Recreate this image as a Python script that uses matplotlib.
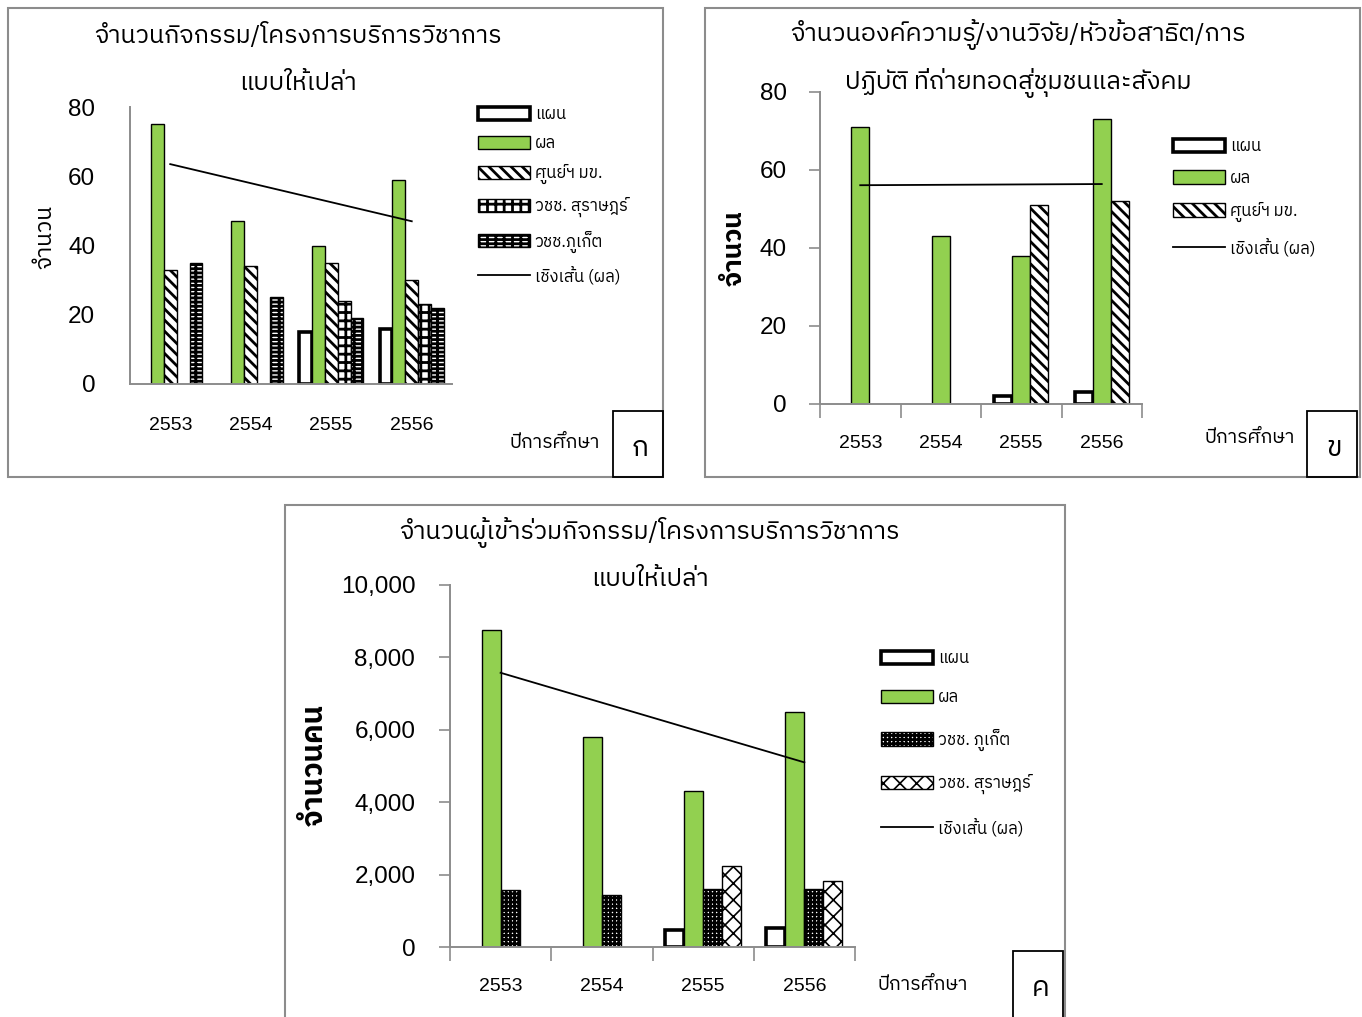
import numpy as np
import matplotlib
matplotlib.use("Agg")
import matplotlib.pyplot as plt
from matplotlib import font_manager
from matplotlib.ft2font import FT2Font
from matplotlib.patches import Rectangle
from matplotlib.lines import Line2D
from matplotlib.ticker import FuncFormatter

# ข้อมูล ปีการศึกษา 2553-2556
years = ["2553", "2554", "2555", "2556"]

# (ก) จำนวนกิจกรรม/โครงการบริการวิชาการแบบให้เปล่า
a_plan = [np.nan, np.nan, 15, 16]
a_result = [75, 47, 40, 59]
a_kku = [33, 34, 35, 30]
a_surat = [np.nan, np.nan, 24, 23]
a_phuket = [35, 25, 19, 22]

# (ข) จำนวนองค์ความรู้ที่ถ่ายทอดสู่ชุมชนและสังคม
b_plan = [np.nan, np.nan, 2, 3]
b_result = [71, 43, 38, 73]
b_kku = [np.nan, np.nan, 51, 52]

# (ค) จำนวนผู้เข้าร่วมกิจกรรม
c_plan = [np.nan, np.nan, 480, 520]
c_result = [8750, 5800, 4300, 6500]
c_phuket = [1580, 1450, 1600, 1600]
c_surat = [np.nan, np.nan, 2230, 1820]

W, H = 1362, 1017
GREEN = "#92D050"
GRAY = "#8C8C8C"
ZIGZAG = "xx"


# หาฟอนต์ที่มีอักษรไทย
def find_thai_font():
    names = []
    for f in font_manager.fontManager.ttflist:
        try:
            cmap = FT2Font(f.fname).get_charmap()
        except Exception:
            continue
        if 0x0E01 in cmap and 0x0E33 in cmap:
            names.append(f.name)
    if not names:
        return "DejaVu Sans"
    names = sorted(set(names), key=lambda n: (("Sans" not in n), ("Looped" in n), n))
    return names[0]


installed = {f.name for f in font_manager.fontManager.ttflist}
THAI = find_thai_font()
NUM = "Liberation Sans Narrow" if "Liberation Sans Narrow" in installed else "Liberation Sans"
plt.rcParams["font.family"] = [THAI, "DejaVu Sans"]
plt.rcParams["hatch.linewidth"] = 2.0
NUM_FONT = [NUM, "DejaVu Sans"]


def rect(l, t, r, b):
    return [l / W, 1 - b / H, (r - l) / W, (b - t) / H]


def fx(x):
    return x / W


def fy(y):
    return 1 - y / H


def trend(values):
    xs = np.arange(len(values))
    k, c = np.polyfit(xs, values, 1)
    return xs, k * xs + c


def thin_hatch(p):
    # ลายซิกแซกให้เส้นบางกว่าลายอื่น
    if p.get_hatch() == ZIGZAG and hasattr(p, "set_hatch_linewidth"):
        p.set_hatch_linewidth(1.2)


def frame(l, t, r, b, color=GRAY, lw=1.5):
    fig.add_artist(Rectangle((fx(l), fy(b)), (r - l) / W, (b - t) / H,
                             transform=fig.transFigure, fill=False,
                             edgecolor=color, linewidth=lw))


def base_axes(box, ymax, yticks, tick_marks, ypad, xpad, fmt=None):
    ax = fig.add_axes(rect(*box))
    ax.set_xlim(-0.5, 3.5)
    ax.set_ylim(0, ymax)
    for s in ["top", "right"]:
        ax.spines[s].set_visible(False)
    for s in ["left", "bottom"]:
        ax.spines[s].set_color(GRAY)
        ax.spines[s].set_linewidth(1.4)
    ax.set_yticks(yticks)
    if fmt is not None:
        ax.yaxis.set_major_formatter(FuncFormatter(fmt))
    x = np.arange(len(years))
    if tick_marks:
        ax.set_xticks(np.arange(-0.5, 4.0), labels=[])
        ax.set_xticks(x, labels=years, minor=True)
        ax.tick_params(axis="x", which="major", length=10, color=GRAY, width=1.2)
        ax.tick_params(axis="x", which="minor", length=0, pad=xpad)
        ax.tick_params(axis="y", length=8, color=GRAY, width=1.2, pad=ypad)
    else:
        ax.set_xticks(x, labels=years)
        ax.tick_params(axis="x", length=0, pad=xpad)
        ax.tick_params(axis="y", length=0, pad=ypad)
    for lab in ax.get_xticklabels(minor=tick_marks):
        lab.set_fontfamily(NUM_FONT)
        lab.set_fontsize(14)
    for lab in ax.get_yticklabels():
        lab.set_fontfamily(NUM_FONT)
        lab.set_fontsize(17.5)
    return ax


def draw_bars(ax, series, width):
    x = np.arange(len(years))
    n = len(series)
    handles = []
    for i, (vals, style) in enumerate(series):
        pos = x + (i - (n - 1) / 2) * width
        if style == "plan":
            h = ax.bar(pos, vals, width, facecolor="white", edgecolor="black", linewidth=2.6)
        elif style == "result":
            h = ax.bar(pos, vals, width, facecolor=GREEN, edgecolor="black", linewidth=1)
        else:
            h = ax.bar(pos, vals, width, facecolor="white", edgecolor="black",
                       linewidth=1, hatch=style)
            for p in h.patches:
                thin_hatch(p)
        handles.append(h)
    return handles


def add_legend(ax, handles, labels, x, y, spacing):
    leg = ax.legend(handles, labels, loc="upper left", bbox_to_anchor=(fx(x), fy(y)),
                    bbox_transform=fig.transFigure, frameon=False, fontsize=12,
                    handlelength=3.1, handleheight=0.85, handletextpad=0.3,
                    labelspacing=spacing, borderpad=0, borderaxespad=0)
    for hd in leg.legend_handles:
        if isinstance(hd, Rectangle):
            thin_hatch(hd)


def trend_handle():
    return Line2D([], [], color="black", linewidth=1.3)


fig = plt.figure(figsize=(W / 100, H / 100), dpi=100)

# ---------- (ก) ----------
frame(8, 8, 663, 477)
ax = base_axes((130, 107, 452, 384), 80, [0, 20, 40, 60, 80], False, 25, 24)
hs = draw_bars(ax, [(a_plan, "plan"), (a_result, "result"), (a_kku, "\\\\\\"),
                    (a_surat, "++"), (a_phuket, "++--")], 0.16)
tx, ty = trend(a_result)
ax.plot(tx, ty, color="black", linewidth=1.3)
add_legend(ax, hs + [trend_handle()],
           ["แผน", "ผล", "ศูนย์ฯ มข.", "วชช. สุราษฎร์", "วชช.ภูเก็ต", "เชิงเส้น (ผล)"],
           478, 106, 0.78)
fig.text(fx(298), fy(35), "จำนวนกิจกรรม/โครงการบริการวิชาการ", ha="center", va="center", fontsize=18)
fig.text(fx(298), fy(83), "แบบให้เปล่า", ha="center", va="center", fontsize=18)
fig.text(fx(45), fy(237), "จำนวน", ha="center", va="center", rotation=90, fontsize=16.5)
fig.text(fx(555), fy(443), "ปีการศึกษา", ha="center", va="center", fontsize=14)
frame(613, 411, 663, 477, color="black", lw=1.3)
fig.text(fx(640), fy(449), "ก", ha="center", va="center", fontsize=20)

# ---------- (ข) ----------
frame(705, 8, 1360, 477)
ax = base_axes((820, 92, 1142, 404), 80, [0, 20, 40, 60, 80], True, 16, 22)
hs = draw_bars(ax, [(b_plan, "plan"), (b_result, "result"), (b_kku, "\\\\\\")], 0.224)
tx, ty = trend(b_result)
ax.plot(tx, ty, color="black", linewidth=1.3)
add_legend(ax, hs + [trend_handle()],
           ["แผน", "ผล", "ศูนย์ฯ มข.", "เชิงเส้น (ผล)"],
           1173, 138, 0.95)
fig.text(fx(1018), fy(35), "จำนวนองค์ความรู้/งานวิจัย/หัวข้อสาธิต/การ", ha="center", va="center", fontsize=18.2)
fig.text(fx(1018), fy(83), "ปฏิบัติ ที่ถ่ายทอดสู่ชุมชนและสังคม", ha="center", va="center", fontsize=18.2)
fig.text(fx(735), fy(248), "จำนวน", ha="center", va="center", rotation=90, fontsize=19, fontweight="bold")
fig.text(fx(1250), fy(438), "ปีการศึกษา", ha="center", va="center", fontsize=14)
frame(1307, 411, 1357, 477, color="black", lw=1.3)
fig.text(fx(1334), fy(449), "ข", ha="center", va="center", fontsize=20)

# ---------- (ค) ----------
frame(285, 505, 1065, 1030)
ax = base_axes((450, 585, 855, 947), 10000, np.arange(0, 10001, 2000), True, 17, 22,
               fmt=lambda v, p: f"{v:,.0f}")
hs = draw_bars(ax, [(c_plan, "plan"), (c_result, "result"), (c_phuket, "++++"),
                    (c_surat, ZIGZAG)], 0.188)
tx, ty = trend(c_result)
ax.plot(tx, ty, color="black", linewidth=1.3)
add_legend(ax, hs + [trend_handle()],
           ["แผน", "ผล", "วชช. ภูเก็ต", "วชช. สุราษฎร์", "เชิงเส้น (ผล)"],
           881, 650, 1.4)
fig.text(fx(650), fy(532), "จำนวนผู้เข้าร่วมกิจกรรม/โครงการบริการวิชาการ", ha="center", va="center", fontsize=18)
fig.text(fx(650), fy(580), "แบบให้เปล่า", ha="center", va="center", fontsize=18)
fig.text(fx(315), fy(765), "จำนวนคน", ha="center", va="center", rotation=90, fontsize=21, fontweight="bold")
fig.text(fx(923), fy(985), "ปีการศึกษา", ha="center", va="center", fontsize=14)
frame(1013, 951, 1063, 1030, color="black", lw=1.3)
fig.text(fx(1041), fy(989), "ค", ha="center", va="center", fontsize=20)

fig.savefig("out.png", dpi=100)
